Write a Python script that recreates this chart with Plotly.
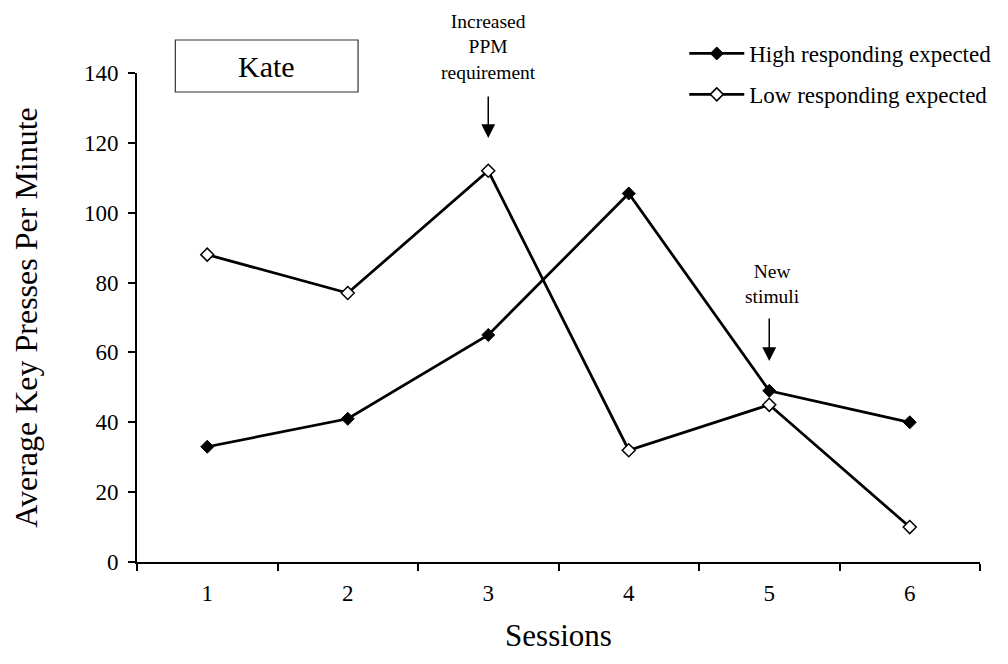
import plotly.graph_objects as go

sessions = ["1", "2", "3", "4", "5", "6"]
high_vals = [33, 41, 65, 105.5, 49, 40]
low_vals = [88, 77, 112, 32, 45, 10]
y_ticks = [0, 20, 40, 60, 80, 100, 120, 140]

FONT = "Liberation Serif, Times New Roman, serif"

fig = go.Figure()
fig.add_trace(go.Scatter(
    x=sessions, y=high_vals, mode="lines+markers",
    name="High responding expected",
    line=dict(color="black", width=2.75),
    marker=dict(symbol="diamond", size=10, color="black",
                line=dict(color="black", width=1)),
    legendgroup="a",
))
fig.add_trace(go.Scatter(
    x=sessions, y=low_vals, mode="lines+markers",
    name="Low responding expected",
    line=dict(color="black", width=2.75),
    marker=dict(symbol="diamond", size=10, color="white",
                line=dict(color="black", width=1.5)),
    legendgroup="b",
))

# page body has an 8px default margin; compensate so the plot lands where intended
OFF = 8
W, H = 1008 - OFF, 664 - OFF
PL, PR, PT, PB = 137, 995, 73, 562  # plot area in screen pixels
L, T = PL - OFF, PT - OFF
R = W + OFF - PR
B = H + OFF - PB
pw, ph = PR - PL, PB - PT


def px_x(p):
    return (p - PL) / pw


def px_y(p):
    return (PB - p) / ph


fig.update_layout(
    width=W, height=H,
    margin=dict(l=L, r=R, t=T, b=B),
    paper_bgcolor="white", plot_bgcolor="white",
    font=dict(family=FONT, color="black", size=23),
    showlegend=True,
    legend=dict(
        x=px_x(694), y=px_y(32), xanchor="left", yanchor="top",
        font=dict(family=FONT, size=23, color="black"),
        itemwidth=55, tracegroupgap=8, bgcolor="rgba(0,0,0,0)",
    ),
    xaxis=dict(
        type="category", categoryorder="array", categoryarray=sessions,
        range=[-0.5, len(sessions) - 0.5],
        showline=True, linecolor="black", linewidth=2,
        ticks="outside", ticklen=7, tickwidth=2, tickcolor="black",
        tickson="boundaries", showgrid=False, zeroline=False,
        tickfont=dict(family=FONT, size=23), ticklabelstandoff=9,
        automargin=False,
        title=dict(text="Sessions", font=dict(family=FONT, size=31), standoff=20),
    ),
    yaxis=dict(
        range=[0, 140], tickvals=y_ticks,
        showline=True, linecolor="black", linewidth=2,
        ticks="outside", ticklen=7, tickwidth=2, tickcolor="black",
        showgrid=False, zeroline=False, automargin=False,
        tickfont=dict(family=FONT, size=23), ticklabelstandoff=5,
        title=dict(text="Average Key Presses Per Minute",
                   font=dict(family=FONT, size=32), standoff=37),
    ),
)

# Kate box
fig.add_shape(type="rect", xref="paper", yref="paper",
              x0=px_x(176), x1=px_x(362), y0=px_y(92), y1=px_y(40),
              line=dict(color="#333333", width=1.2), fillcolor="white")
fig.add_annotation(xref="paper", yref="paper", x=px_x(269), y=px_y(66),
                   text="Kate", showarrow=False, xanchor="center", yanchor="middle",
                   font=dict(family=FONT, size=30, color="black"))

# Increased PPM requirement (category index 2 -> session "3")
fig.add_annotation(xref="x", yref="paper", x=2, y=px_y(46.5),
                   text="Increased<br>PPM<br>requirement", showarrow=False,
                   xanchor="center", yanchor="middle",
                   font=dict(family=FONT, size=19.5, color="black"))
fig.add_annotation(xref="x", yref="paper", x=2, y=px_y(138), text="",
                   showarrow=True, ax=0, ay=-43, arrowhead=2, arrowsize=1.85,
                   arrowwidth=1.5, arrowcolor="black")

# New stimuli (category index 4 -> session "5")
fig.add_annotation(xref="x", yref="paper", x=4, y=px_y(284),
                   text="New<br>stimuli", showarrow=False, xshift=3,
                   xanchor="center", yanchor="middle",
                   font=dict(family=FONT, size=19.5, color="black"))
fig.add_annotation(xref="x", yref="paper", x=4, y=px_y(361), text="",
                   showarrow=True, ax=0, ay=-44, arrowhead=2, arrowsize=1.85,
                   arrowwidth=1.5, arrowcolor="black")

fig.write_html("out.html")
